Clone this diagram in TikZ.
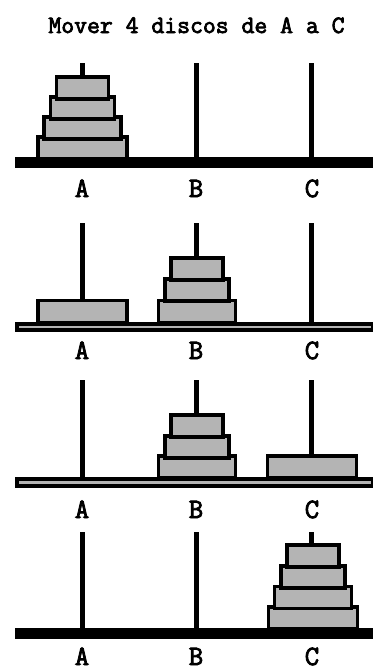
\documentclass[tikz,border=0pt]{standalone}
\usepackage{fontspec}
\setmainfont{Liberation Serif}
\newfontfamily\titlefont[FakeBold=3]{Latin Modern Mono}
\newfontfamily\lblfont[FakeBold=3]{Latin Modern Mono}
\definecolor{diskgray}{RGB}{180,180,180}
\begin{document}
\begin{tikzpicture}[x=1pt,y=-1pt,
  disk/.style={draw=black, fill=diskgray, line width=3.5pt, minimum height=22pt, inner sep=0pt, outer sep=0pt},
  dA/.style={disk, minimum width=52pt},
  dB/.style={disk, minimum width=64pt},
  dC/.style={disk, minimum width=77pt},
  dD/.style={disk, minimum width=89pt},
  peg/.style={line width=5pt, black},
  basebar/.style={fill=black},
  stripe/.style={draw=diskgray, line width=2.5pt},
  lbl/.style={font=\lblfont\fontsize{28}{28}\selectfont, inner sep=0pt, anchor=base},
  ttl/.style={font=\titlefont\fontsize{25}{25}\selectfont, inner sep=0pt, anchor=base}
]
\useasboundingbox (0,0) rectangle (374,672);
\fill[white] (0,0) rectangle (374,672);

\node[ttl] (title) at (196.5,33) {Mover 4 discos de A a C};

% ---------- panel 1 ----------
\fill[basebar] (15,157) rectangle (373,168);
\coordinate (p1a) at (82,63);  \coordinate (p1ab) at (82,158);
\coordinate (p1b) at (196,63); \coordinate (p1bb) at (196,158);
\coordinate (p1c) at (311,63); \coordinate (p1cb) at (311,158);
\draw[peg] (p1a) -- (p1ab);
\draw[peg] (p1b) -- (p1bb);
\draw[peg] (p1c) -- (p1cb);
\node[dD] (p1d4) at (82.5,148) {};
\node[dC] (p1d3) at (82.5,128) {};
\node[dB] (p1d2) at (82.5,108) {};
\node[dA] (p1d1) at (82.5,88) {};
\node[lbl] (l1a) at (82,197) {A};
\node[lbl] (l1b) at (196,197) {B};
\node[lbl] (l1c) at (312,197) {C};

% ---------- panel 2 ----------
\fill[basebar] (15,322) rectangle (373,332);
\draw[stripe] (19,327) -- (371,327);
\coordinate (p2a) at (82,223);  \coordinate (p2ab) at (82,322);
\coordinate (p2b) at (196,223); \coordinate (p2bb) at (196,322);
\coordinate (p2c) at (311,223); \coordinate (p2cb) at (311,322);
\draw[peg] (p2a) -- (p2ab);
\draw[peg] (p2b) -- (p2bb);
\draw[peg] (p2c) -- (p2cb);
\node[dD] (p2d4) at (82.5,311.5) {};
\node[dC] (p2d3) at (197,311.5) {};
\node[dB] (p2d2) at (197,290) {};
\node[dA] (p2d1) at (197,269) {};
\node[lbl] (l2a) at (82,359) {A};
\node[lbl] (l2b) at (196,359) {B};
\node[lbl] (l2c) at (312,359) {C};

% ---------- panel 3 ----------
\fill[basebar] (15,477) rectangle (373,488);
\draw[stripe] (19,482.5) -- (371,482.5);
\coordinate (p3a) at (82,380);  \coordinate (p3ab) at (82,477);
\coordinate (p3b) at (196,380); \coordinate (p3bb) at (196,477);
\coordinate (p3c) at (311,380); \coordinate (p3cb) at (311,477);
\draw[peg] (p3a) -- (p3ab);
\draw[peg] (p3b) -- (p3bb);
\draw[peg] (p3c) -- (p3cb);
\node[dC] (p3d3) at (197,467) {};
\node[dB] (p3d2) at (197,447) {};
\node[dA] (p3d1) at (197,426) {};
\node[dD] (p3d4) at (312,467) {};
\node[lbl] (l3a) at (82,518) {A};
\node[lbl] (l3b) at (196,518) {B};
\node[lbl] (l3c) at (312,518) {C};

% ---------- panel 4 ----------
\fill[basebar] (15,628) rectangle (373,639);
\coordinate (p4a) at (82,532);  \coordinate (p4ab) at (82,628);
\coordinate (p4b) at (196,532); \coordinate (p4bb) at (196,628);
\coordinate (p4c) at (311,532); \coordinate (p4cb) at (311,628);
\draw[peg] (p4a) -- (p4ab);
\draw[peg] (p4b) -- (p4bb);
\draw[peg] (p4c) -- (p4cb);
\node[dD] (p4d4) at (313,618) {};
\node[dC] (p4d3) at (313,597.5) {};
\node[dB] (p4d2) at (313,577) {};
\node[dA] (p4d1) at (313,556) {};
\node[lbl] (l4a) at (82,665) {A};
\node[lbl] (l4b) at (196,665) {B};
\node[lbl] (l4c) at (312,665) {C};
\end{tikzpicture}
\end{document}
